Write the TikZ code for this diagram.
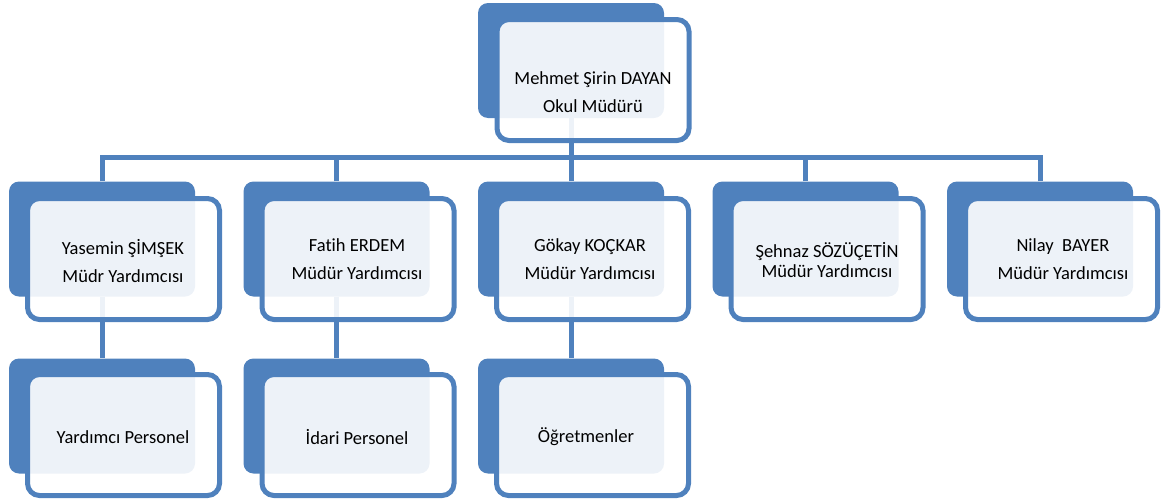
\documentclass[tikz,border=0pt]{standalone}
\usepackage{fontspec}
\setmainfont{Carlito}[Ligatures={NoCommon}]
\usetikzlibrary{backgrounds}
\definecolor{accent}{HTML}{4F81BD}
\begin{document}
\begin{tikzpicture}[x=1pt,y=-1pt,
 backbox/.style={rectangle,rounded corners=10pt,fill=accent,minimum width=186pt,minimum height=115pt,inner sep=0pt},
 frontbox/.style={rectangle,rounded corners=12pt,draw=accent,line width=5pt,fill=white,fill opacity=0.9,minimum width=192pt,minimum height=121pt,inner sep=0pt},
 lbl/.style={align=center,font=\fontsize{18.5}{28}\selectfont,text=black,inner sep=0pt},
 conn/.style={draw=accent,line width=5pt}]
\useasboundingbox (0,0) rectangle (1168,501);
% top node
\node[backbox] (b0) at (571,60.5) {};
\node[frontbox] (f0) at (593,80) {};
\node[lbl] (t0) at (593,92) {Mehmet Şirin DAYAN\\Okul Müdürü};
% second row
\foreach \i/\cx in {1/102,2/336.5,3/571,4/805.5,5/1040}{
  \node[backbox] (b\i) at (\cx,239) {};
  \node[frontbox] (f\i) at ({\cx+21.5},259) {};
}
\node[lbl] (t1) at (123,261) {Yasemin ŞİMŞEK\\Müdr Yardımcısı};
\node[lbl] (t2) at (357,259) {Fatih ERDEM\\Müdür Yardımcısı};
\node[lbl] (t3) at (590,259) {Gökay KOÇKAR\\Müdür Yardımcısı};
\node[lbl,font=\fontsize{18.5}{19.5}\selectfont] (t4) at (827,260) {Şehnaz SÖZÜÇETİN\\Müdür Yardımcısı};
\node[lbl] (t5) at (1063,259) {Nilay~~BAYER\\Müdür Yardımcısı};
% third row
\foreach \i/\cx in {1/102,2/336.5,3/571}{
  \node[backbox] (c\i) at (\cx,416) {};
  \node[frontbox] (g\i) at ({\cx+21.5},435) {};
}
\node[lbl] (u1) at (123,437) {Yardımcı Personel};
\node[lbl] (u2) at (357,437) {İdari Personel};
\node[lbl] (u3) at (586,437) {Öğretmenler};
% connectors
\begin{scope}[on background layer]
\coordinate (bus) at (571,157);
\draw[conn] (b0.south) -- (b0.south |- bus);
\draw[conn,line cap=rect] (b1.north |- bus) -- (b5.north |- bus);
\foreach \i in {1,...,5}{\draw[conn] (b\i.north) -- (b\i.north |- bus);}
\foreach \i in {1,2,3}{\draw[conn] (b\i.south) -- (c\i.north);}
\end{scope}
\end{tikzpicture}
\end{document}
